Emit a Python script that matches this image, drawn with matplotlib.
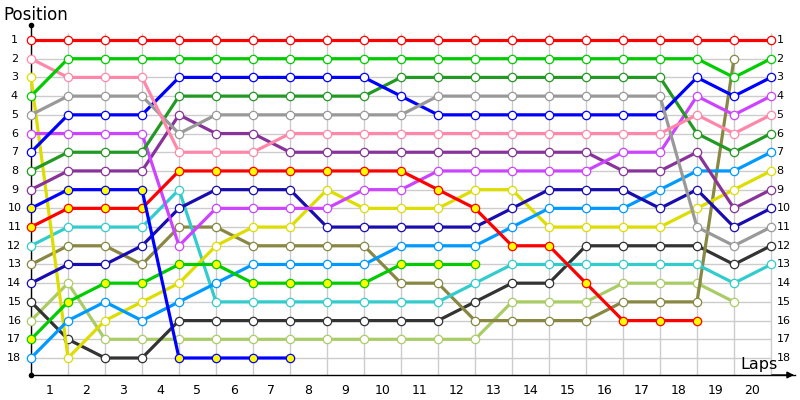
import matplotlib
matplotlib.use("Agg")
import matplotlib.pyplot as plt
import numpy as np

laps = list(range(0, 21))
lap_labels = [str(i) for i in range(1, 21)]
positions = list(range(1, 19))

red1 = [1] * 21
green1 = [4, 2, 2, 2, 2, 2, 2, 2, 2, 2, 2, 2, 2, 2, 2, 2, 2, 2, 2, 3, 2]
pink = [2, 3, 3, 3, 7, 7, 7, 6, 6, 6, 6, 6, 6, 6, 6, 6, 6, 6, 5, 6, 5]
gray = [5, 4, 4, 4, 6, 5, 5, 5, 5, 5, 5, 4, 4, 4, 4, 4, 4, 4, 11, 12, 11]
blue1 = [7, 5, 5, 5, 3, 3, 3, 3, 3, 3, 4, 5, 5, 5, 5, 5, 5, 5, 3, 4, 3]
dkgreen = [8, 7, 7, 7, 4, 4, 4, 4, 4, 4, 3, 3, 3, 3, 3, 3, 3, 3, 6, 7, 6]
magenta = [6, 6, 6, 6, 12, 10, 10, 10, 10, 9, 9, 8, 8, 8, 8, 8, 7, 7, 4, 5, 4]
purple = [9, 8, 8, 8, 5, 6, 6, 7, 7, 7, 7, 7, 7, 7, 7, 7, 8, 8, 7, 10, 9]
blue2 = [10, 9, 9, 9, 18, 18, 18, 18]
red2 = [11, 10, 10, 10, 8, 8, 8, 8, 8, 8, 8, 9, 10, 12, 12, 14, 16, 16, 16]
navy = [14, 13, 13, 12, 10, 9, 9, 9, 11, 11, 11, 11, 11, 10, 9, 9, 9, 10, 9, 11, 10]
lightblue = [18, 16, 15, 16, 15, 14, 13, 13, 13, 13, 12, 12, 12, 11, 10, 10, 10, 9, 8, 8, 7]
yellow = [3, 18, 16, 15, 14, 12, 11, 11, 9, 10, 10, 10, 9, 9, 11, 11, 11, 11, 10, 9, 8]
cyan = [12, 11, 11, 11, 9, 15, 15, 15, 15, 15, 15, 15, 14, 13, 13, 13, 13, 13, 13, 14, 13]
olive = [13, 12, 12, 13, 11, 11, 12, 12, 12, 12, 14, 14, 16, 16, 16, 16, 15, 15, 15, 2]
green2 = [17, 15, 14, 14, 13, 13, 14, 14, 14, 14, 13, 13, 13]
black = [15, 17, 18, 18, 16, 16, 16, 16, 16, 16, 16, 16, 15, 14, 14, 12, 12, 12, 12, 13, 12]
lightgreen = [16, 14, 17, 17, 17, 17, 17, 17, 17, 17, 17, 17, 17, 15, 15, 15, 14, 14, 14, 15]

series = [
    (lightgreen, "#aacc66", False),
    (black, "#333333", False),
    (olive, "#888844", False),
    (cyan, "#33cccc", False),
    (yellow, "#dddd00", False),
    (lightblue, "#0099ff", False),
    (navy, "#1a0db0", False),
    (purple, "#883399", False),
    (magenta, "#cc44ff", False),
    (dkgreen, "#229922", False),
    (blue1, "#0000ff", False),
    (gray, "#999999", False),
    (pink, "#ff88aa", False),
    (green1, "#00cc00", False),
    (red1, "#ff0000", False),
    (green2, "#00cc00", True),
    (red2, "#ff0000", True),
    (blue2, "#0000ff", True),
]

fig = plt.figure(figsize=(8, 4), dpi=100)
ax = fig.add_axes([31 / 800, 25 / 400, (795 - 31) / 800, (375 - 25) / 400])
px_per_lap = 37.0
xmax = (795 - 31) / px_per_lap
py = (358 - 40) / 17.0
ytop = 1 - (40 - 25) / py
ybot = 18 + (375 - 358) / py
ax.set_xlim(0, xmax)
ax.set_ylim(ybot, ytop)

# grid
vtop = 1 - (40 - 33) / py
ax.vlines(laps, vtop, ybot, colors="#cccccc", linewidth=1, zorder=0)
ax.hlines(positions, 0, 20, colors="#cccccc", linewidth=1, zorder=0)

for vals, col, filled in series:
    x = laps[:len(vals)]
    ax.plot(x, vals, color=col, linewidth=2.3, zorder=3,
            marker="o", markersize=6.0,
            markerfacecolor="#ffff00" if filled else "white",
            markeredgecolor=col, markeredgewidth=0.9, clip_on=False)

for s in ["top", "right"]:
    ax.spines[s].set_visible(False)
ax.spines["left"].set_linewidth(1.0)
ax.spines["bottom"].set_linewidth(1.0)
ax.spines["left"].set_zorder(1)
ax.set_xticks([])
ax.set_yticks([])

for p in positions:
    ax.text(-0.45, p, str(p), ha="center", va="center", fontsize=8, color="black")
    ax.text(20.15, p, str(p), ha="left", va="center", fontsize=8, color="black")
for i, lab in enumerate(lap_labels):
    ax.text(i + 0.5, ybot + 0.85, lab, ha="center", va="center", fontsize=9,
            color="black", clip_on=False)

fig.text(3 / 800, 1 - 15 / 400, "Position", ha="left", va="center", fontsize=12)
fig.text(740 / 800, 1 - 365 / 400, "Laps", ha="left", va="center", fontsize=11.5)

# axis end decorations
ax.plot([0], [ytop], marker="o", markersize=3, color="black", clip_on=False, zorder=5)
ax.plot([0], [ybot], marker="o", markersize=3, color="black", clip_on=False, zorder=5)
ax.annotate("", xy=(xmax + 0.05, ybot), xytext=(xmax - 0.7, ybot),
            arrowprops=dict(arrowstyle="-|>", color="black", lw=1, mutation_scale=10),
            annotation_clip=False)

fig.savefig("out.png", dpi=100)
